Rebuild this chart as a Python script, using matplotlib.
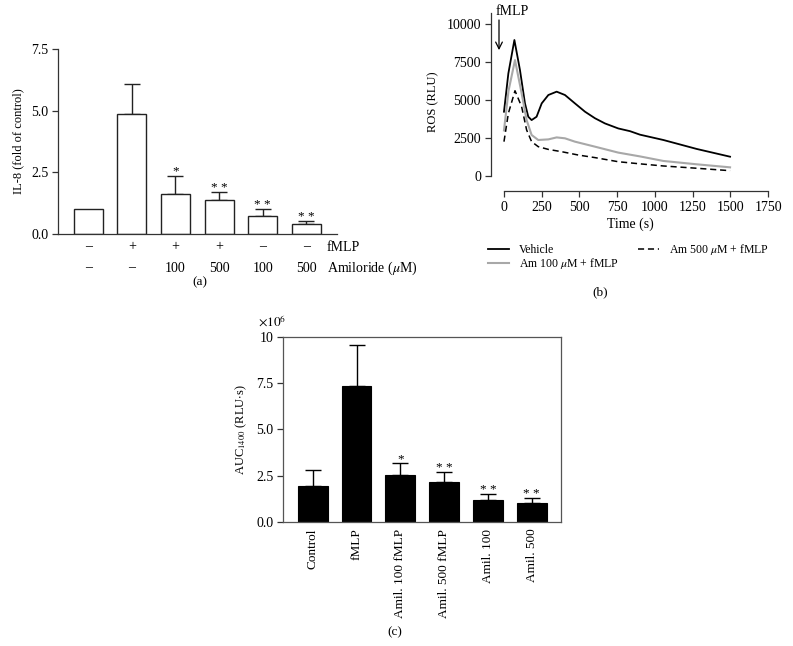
import matplotlib
matplotlib.use('Agg')
import matplotlib.pyplot as plt

plt.rcParams['font.family'] = ['Liberation Serif', 'DejaVu Serif']
plt.rcParams['mathtext.fontset'] = 'stix'
plt.rcParams['font.size'] = 9.5

# ---------------- Panel (a) data ----------------
a_means = [1.0, 4.85, 1.63, 1.37, 0.73, 0.40]
a_err = [0.0, 1.25, 0.74, 0.34, 0.29, 0.14]
a_stars = ['', '', '*', '* *', '* *', '* *']
a_fmlp = ['–', '+', '+', '+', '–', '–']
a_amil = ['–', '–', '100', '500', '100', '500']
a_yticks = [0.0, 2.5, 5.0, 7.5]

# ---------------- Panel (b) data ----------------
veh_t = [0, 29, 69, 106, 139, 161, 183, 216, 250, 294, 349, 404, 470, 537, 603,
         669, 757, 835, 901, 1056, 1277, 1498]
veh_v = [4230, 6750, 8950, 6970, 4780, 3900, 3680, 3900, 4780, 5330, 5550, 5330,
         4780, 4230, 3800, 3460, 3130, 2950, 2720, 2370, 1780, 1270]
am100_t = [0, 30, 73, 117, 150, 183, 227, 294, 349, 404, 470, 603, 757, 901,
           1056, 1277, 1498]
am100_v = [3000, 5600, 7630, 5440, 3680, 2700, 2370, 2410, 2540, 2480, 2260,
           1930, 1540, 1290, 990, 770, 570]
am500_t = [0, 29, 73, 117, 150, 183, 227, 294, 382, 492, 603, 757, 901, 1056,
           1277, 1498]
am500_v = [2260, 4120, 5610, 4560, 3030, 2260, 1930, 1750, 1600, 1380, 1210,
           940, 800, 660, 510, 350]
b_xticks = [0, 250, 500, 750, 1000, 1250, 1500, 1750]
b_yticks = [0, 2500, 5000, 7500, 10000]

# ---------------- Panel (c) data ----------------
c_labels = ['Control', 'fMLP', 'Amil. 100 fMLP', 'Amil. 500 fMLP', 'Amil. 100', 'Amil. 500']
c_means = [1.95, 7.35, 2.52, 2.13, 1.20, 1.03]
c_err = [0.85, 2.20, 0.65, 0.57, 0.32, 0.25]
c_stars = ['', '', '*', '* *', '* *', '* *']
c_yticks = [0.0, 2.5, 5.0, 7.5, 10]

W, H = 793, 646
fig = plt.figure(figsize=(W / 100, H / 100), dpi=100)
TICK_FS = 10
LAB_FS = 9


def box(l, r, t, b):
    return [l / W, 1 - b / H, (r - l) / W, (b - t) / H]


spine_col = '#333333'

# ================= Panel (a) =================
axa = fig.add_axes(box(58, 337, 49, 234))
xa = list(range(len(a_means)))
axa.bar(xa, a_means, width=0.66, color='white', edgecolor='#222222', linewidth=1.0, zorder=2)
axa.errorbar(xa[1:], a_means[1:], yerr=[[0] * 5, a_err[1:]], fmt='none',
             ecolor='#222222', elinewidth=1.0, capsize=5.5, capthick=1.0, zorder=1)
for x, m, e, s in zip(xa, a_means, a_err, a_stars):
    if s:
        axa.annotate(s, (x, m + e), xytext=(0, -1.5), textcoords='offset points',
                     ha='center', va='bottom', fontsize=9.5)
axa.set_xlim(-0.69, 5.70)
axa.set_ylim(0, 7.5)
axa.set_yticks(a_yticks)
axa.set_yticklabels([f'{v:.1f}' for v in a_yticks])
axa.set_xticks([])
for sp in ['top', 'right']:
    axa.spines[sp].set_visible(False)
for sp in ['left', 'bottom']:
    axa.spines[sp].set_color(spine_col)
    axa.spines[sp].set_linewidth(0.9)
axa.tick_params(axis='y', length=4, width=0.9, color=spine_col, pad=3, labelsize=TICK_FS)
axa.set_ylabel('IL-8 (fold of control)', labelpad=5, fontsize=LAB_FS)
for x, f, am in zip(xa, a_fmlp, a_amil):
    axa.text(x, -0.53, f, ha='center', va='center', clip_on=False, fontsize=10)
    axa.text(x, -1.38, am, ha='center', va='center', clip_on=False, fontsize=10)
axa.text(5.46, -0.53, 'fMLP', ha='left', va='center', clip_on=False, fontsize=10)
axa.text(5.46, -1.38, r'Amiloride ($\mu$M)', ha='left', va='center', clip_on=False,
         fontsize=10)
fig.text(200 / W, 1 - 282 / H, '(a)', ha='center', va='center', fontsize=9.5)

# ================= Panel (b) =================
axb = fig.add_axes(box(490.7, 769.6, 13.4, 191))
l1, = axb.plot(veh_t, veh_v, color='black', lw=1.3, label='Vehicle')
l2, = axb.plot(am100_t, am100_v, color='#a8a8a8', lw=1.5, label=r'Am 100 $\mu$M + fMLP')
l3, = axb.plot(am500_t, am500_v, color='black', lw=1.1, ls=(0, (4, 2.5)),
               label=r'Am 500 $\mu$M + fMLP')
axb.set_xlim(-88, 1760)
axb.set_ylim(-987, 10700)
axb.set_xticks(b_xticks)
axb.set_yticks(b_yticks)
axb.spines['left'].set_bounds(0, 10700)
axb.spines['bottom'].set_bounds(0, 1750)
for sp in ['top', 'right']:
    axb.spines[sp].set_visible(False)
for sp in ['left', 'bottom']:
    axb.spines[sp].set_color(spine_col)
    axb.spines[sp].set_linewidth(0.9)
axb.tick_params(length=4, width=0.9, color=spine_col, pad=3, labelsize=TICK_FS)
axb.set_xlabel('Time (s)', labelpad=3, fontsize=10)
axb.set_ylabel('ROS (RLU)', labelpad=5, fontsize=LAB_FS)
axb.annotate('', xy=(-33, 8100), xytext=(-33, 10450),
             arrowprops=dict(arrowstyle='->', color='black', lw=0.9,
                             mutation_scale=12), annotation_clip=False)
axb.text(-58, 10800, 'fMLP', ha='left', va='center', clip_on=False, fontsize=10)
fig.legend(handles=[l1, l2, l3], loc='upper left',
           bbox_to_anchor=(488 / W, 1 - 242 / H), ncol=2, frameon=False,
           fontsize=8.5, handlelength=1.8, handletextpad=0.85, labelspacing=0.0,
           columnspacing=1.6, borderpad=0, borderaxespad=0)
fig.text(600 / W, 1 - 292 / H, '(b)', ha='center', va='center', fontsize=9.5)

# ================= Panel (c) =================
axc = fig.add_axes(box(283, 561, 337, 521.7))
xc = list(range(len(c_means)))
axc.bar(xc, c_means, width=0.68, color='black', edgecolor='black', linewidth=0.8, zorder=2)
axc.errorbar(xc, c_means, yerr=[[0] * 6, c_err], fmt='none', ecolor='black',
             elinewidth=1.0, capsize=5.5, capthick=1.0, zorder=1)
for x, m, e, s in zip(xc, c_means, c_err, c_stars):
    if s:
        axc.annotate(s, (x, m + e), xytext=(0, -1.5), textcoords='offset points',
                     ha='center', va='bottom', fontsize=9.5)
axc.set_xlim(-0.68, 5.67)
axc.set_ylim(0, 10)
axc.set_yticks(c_yticks)
axc.set_yticklabels(['0.0', '2.5', '5.0', '7.5', '10'])
axc.set_xticks(xc)
axc.set_xticklabels(c_labels, rotation=90, va='top', ha='center', fontsize=9.5)
for sp in axc.spines.values():
    sp.set_color('#555555')
    sp.set_linewidth(0.9)
axc.tick_params(axis='y', length=4, width=0.9, color=spine_col, pad=3, labelsize=TICK_FS)
axc.tick_params(axis='x', length=0, pad=5)
axc.set_ylabel(r'AUC$_{1400}$ (RLU$\cdot$s)', labelpad=5, fontsize=LAB_FS)
axc.text(-0.04, 1.04, r'$\times 10^{6}$', transform=axc.transAxes, ha='center',
         va='bottom', fontsize=9.5)
fig.text(395 / W, 1 - 632 / H, '(c)', ha='center', va='center', fontsize=9.5)

fig.savefig('out.png', dpi=100)
